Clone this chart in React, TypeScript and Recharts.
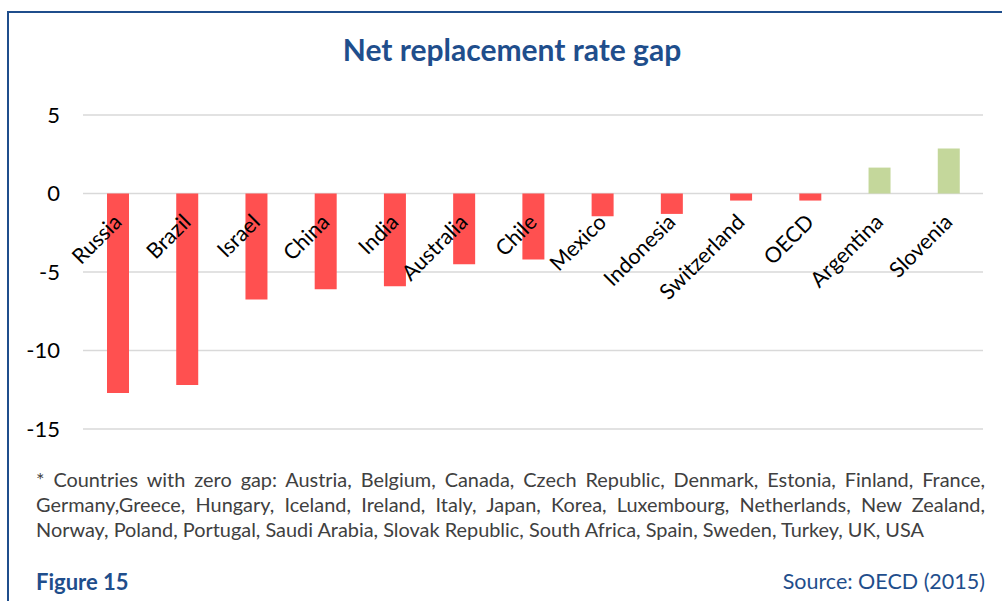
import { BarChart, Bar, XAxis, YAxis, CartesianGrid, Cell, LabelList } from "recharts";

const countries = [
  "Russia",
  "Brazil",
  "Israel",
  "China",
  "India",
  "Australia",
  "Chile",
  "Mexico",
  "Indonesia",
  "Switzerland",
  "OECD",
  "Argentina",
  "Slovenia",
];
const gaps = [-12.7, -12.2, -6.75, -6.1, -5.9, -4.5, -4.2, -1.45, -1.3, -0.45, -0.45, 1.65, 2.87];
const yTicks = [5, 0, -5, -10, -15];
const footnoteLines = [
  "* Countries with zero gap: Austria, Belgium, Canada, Czech Republic, Denmark, Estonia, Finland, France,",
  "Germany,Greece, Hungary, Iceland, Ireland, Italy, Japan, Korea, Luxembourg, Netherlands, New Zealand,",
  "Norway, Poland, Portugal, Saudi Arabia, Slovak Republic, South Africa, Spain, Sweden, Turkey, UK, USA",
];

const data = countries.map((country, i) => ({ country, gap: gaps[i] }));

const FONT = "Lato, 'Open Sans', sans-serif";
const BLUE = "#1F4E8C";
const NEG = "#FF5050";
const POS = "#C4D79B";

// country names sit just under the zero line, rotated like Excel's "low" labels
function CountryLabel(props: any) {
  const x = Number(props.x ?? props.viewBox?.x);
  const y = Number(props.y ?? props.viewBox?.y);
  const w = Number(props.width ?? props.viewBox?.width);
  const h = Number(props.height ?? props.viewBox?.height);
  const cx = x + w / 2;
  const zeroY = y + h;
  const tx = cx + 5;
  const ty = zeroY + 30;
  return (
    <text
      x={tx}
      y={ty}
      transform={`rotate(-45 ${tx} ${ty})`}
      textAnchor="end"
      fontSize={21.5}
      fontFamily={FONT}
      fill="#000"
    >
      {countries[props.index]}
    </text>
  );
}

export default function App() {
  return (
    <div style={{ position: "absolute", left: 0, top: 0, width: 1002, height: 601, fontFamily: FONT, background: "#fff" }}>
      <div
        style={{
          position: "absolute",
          left: 7,
          top: 11,
          width: 995,
          height: 590,
          borderLeft: `2px solid ${BLUE}`,
          borderTop: `2px solid ${BLUE}`,
          boxSizing: "border-box",
        }}
      />
      <div
        style={{
          position: "absolute",
          left: 0,
          top: 31,
          width: 1024,
          textAlign: "center",
          fontSize: 30,
          fontWeight: 700,
          color: BLUE,
        }}
      >
        Net replacement rate gap
      </div>
      <div style={{ position: "absolute", left: 0, top: 0 }}>
        <BarChart
          width={1002}
          height={601}
          data={data}
          margin={{ top: 115, right: 19, left: 23, bottom: 172 }}
          barSize={22}
        >
          <CartesianGrid vertical={false} stroke="#D9D9D9" strokeWidth={1.5} />
          <XAxis dataKey="country" hide />
          <YAxis
            domain={[-15, 5]}
            ticks={yTicks}
            width={60}
            axisLine={false}
            tickLine={false}
            tickSize={0}
            tickMargin={23}
            tick={{ fontSize: 22, fill: "#000", fontFamily: FONT }}
          />
          <Bar dataKey="gap" isAnimationActive={false}>
            {data.map((d) => (
              <Cell key={d.country} fill={d.gap < 0 ? NEG : POS} />
            ))}
            <LabelList dataKey="gap" content={CountryLabel} />
          </Bar>
        </BarChart>
      </div>
      <div
        style={{
          position: "absolute",
          left: 36,
          top: 467,
          width: 949,
          fontSize: 19.9,
          lineHeight: "25px",
          color: "#404040",
        }}
      >
        {footnoteLines.map((line, i) => (
          <div
            key={i}
            style={{
              whiteSpace: "nowrap",
              textAlign: "justify",
              textAlignLast: i < footnoteLines.length - 1 ? "justify" : "left",
            }}
          >
            {line}
          </div>
        ))}
      </div>
      <div style={{ position: "absolute", left: 36, top: 568, fontSize: 22, fontWeight: 700, color: BLUE }}>Figure 15</div>
      <div style={{ position: "absolute", right: 17, top: 568, fontSize: 21.5, color: BLUE }}>Source: OECD (2015)</div>
    </div>
  );
}
